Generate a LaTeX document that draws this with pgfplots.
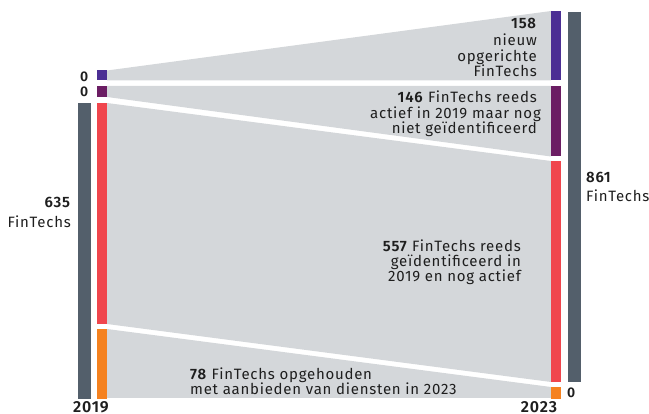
\documentclass[border=0pt]{standalone}
\usepackage{pgfplots}
\pgfplotsset{compat=1.18}
\usepackage{fontspec}
\setmainfont{Fira Sans}[BoldFont=* SemiBold, LetterSpace=5]
\definecolor{slate}{HTML}{535F6B}
\definecolor{cpurple}{HTML}{4B2E94}
\definecolor{cplum}{HTML}{6B1D63}
\definecolor{cred}{HTML}{F0464D}
\definecolor{corange}{HTML}{F58220}
\definecolor{cflow}{HTML}{D4D7DA}
\definecolor{ctext}{HTML}{1E1E1E}
\begin{document}
\begin{tikzpicture}
\useasboundingbox (0,0) rectangle (649pt,414pt);
\begin{axis}[at={(0,0)}, anchor=south west, scale only axis, width=649pt, height=414pt,
  xmin=0, xmax=649, ymin=0, ymax=414, y dir=reverse, hide axis, clip=false]
% flows
\addplot[fill=cflow, draw=none] coordinates {(107,70.5) (551,11) (551,80.5) (107,80.5)} --cycle;
\addplot[fill=cflow, draw=none] coordinates {(107,86) (551,86) (551,156.5) (107,97)} --cycle;
\addplot[fill=cflow, draw=none] coordinates {(107,103) (551,161) (551,382) (107,324)} --cycle;
\addplot[fill=cflow, draw=none] coordinates {(107,329) (551,387) (551,398) (107,398)} --cycle;
% left total
\addplot[fill=slate, draw=none] coordinates {(78,103) (91,103) (91,398.7) (78,398.7)} --cycle;
% left nodes
\addplot[fill=cpurple, draw=none] coordinates {(97,70) (107,70) (107,80.5) (97,80.5)} --cycle;
\addplot[fill=cplum, draw=none] coordinates {(97,86) (107,86) (107,97) (97,97)} --cycle;
\addplot[fill=cred, draw=none] coordinates {(97,103) (107,103) (107,324) (97,324)} --cycle;
\addplot[fill=corange, draw=none] coordinates {(97,329) (107,329) (107,398.7) (97,398.7)} --cycle;
% right nodes
\addplot[fill=cpurple, draw=none] coordinates {(551,11) (561,11) (561,80.5) (551,80.5)} --cycle;
\addplot[fill=cplum, draw=none] coordinates {(551,86) (561,86) (561,156.5) (551,156.5)} --cycle;
\addplot[fill=cred, draw=none] coordinates {(551,161) (561,161) (561,382) (551,382)} --cycle;
\addplot[fill=corange, draw=none] coordinates {(551,387) (561,387) (561,398.7) (551,398.7)} --cycle;
% right total
\addplot[fill=slate, draw=none] coordinates {(568,12) (581,12) (581,382) (568,382)} --cycle;
% labels
\tikzset{lab/.style={inner sep=0pt, font=\fontsize{15}{16}\selectfont, text=ctext},
  R/.style={lab, anchor=base east}, L/.style={lab, anchor=base west}}
\node[R, font=\fontsize{14}{14}\selectfont\bfseries] at (axis cs:88.5,81.5) {0};
\node[R, font=\fontsize{14}{14}\selectfont\bfseries] at (axis cs:88.5,97) {0};
\node[L, font=\fontsize{14}{14}\selectfont\bfseries] at (axis cs:567,398) {0};
\node[R] at (axis cs:71,208) {\textbf{635}};
\node[R] at (axis cs:71,228) {FinTechs};
\node[L] at (axis cs:586,183) {\textbf{861}};
\node[L] at (axis cs:586,202) {FinTechs};
\node[R] at (axis cs:537,29) {\textbf{158}};
\node[R] at (axis cs:537,46) {nieuw};
\node[R] at (axis cs:537,62) {opgerichte};
\node[R] at (axis cs:537,77) {FinTechs};
\node[R] at (axis cs:537,103) {\textbf{146} FinTechs reeds};
\node[R] at (axis cs:541,119) {actief in 2019 maar nog};
\node[R] at (axis cs:537,134) {niet geïdentificeerd};
\node[R] at (axis cs:521,252) {\textbf{557} FinTechs reeds};
\node[R] at (axis cs:521,267) {geïdentificeerd in};
\node[R] at (axis cs:521,282) {2019 en nog actief};
\node[L] at (axis cs:190,379.5) {\textbf{78} FinTechs opgehouden};
\node[L] at (axis cs:190,394.5) {met aanbieden van diensten in 2023};
\node[lab, anchor=north, font=\fontsize{16}{16}\selectfont\bfseries] at (axis cs:91,401) {2019};
\node[lab, anchor=north, font=\fontsize{16}{16}\selectfont\bfseries] at (axis cs:539,401) {2023};
\end{axis}
\end{tikzpicture}
\end{document}
